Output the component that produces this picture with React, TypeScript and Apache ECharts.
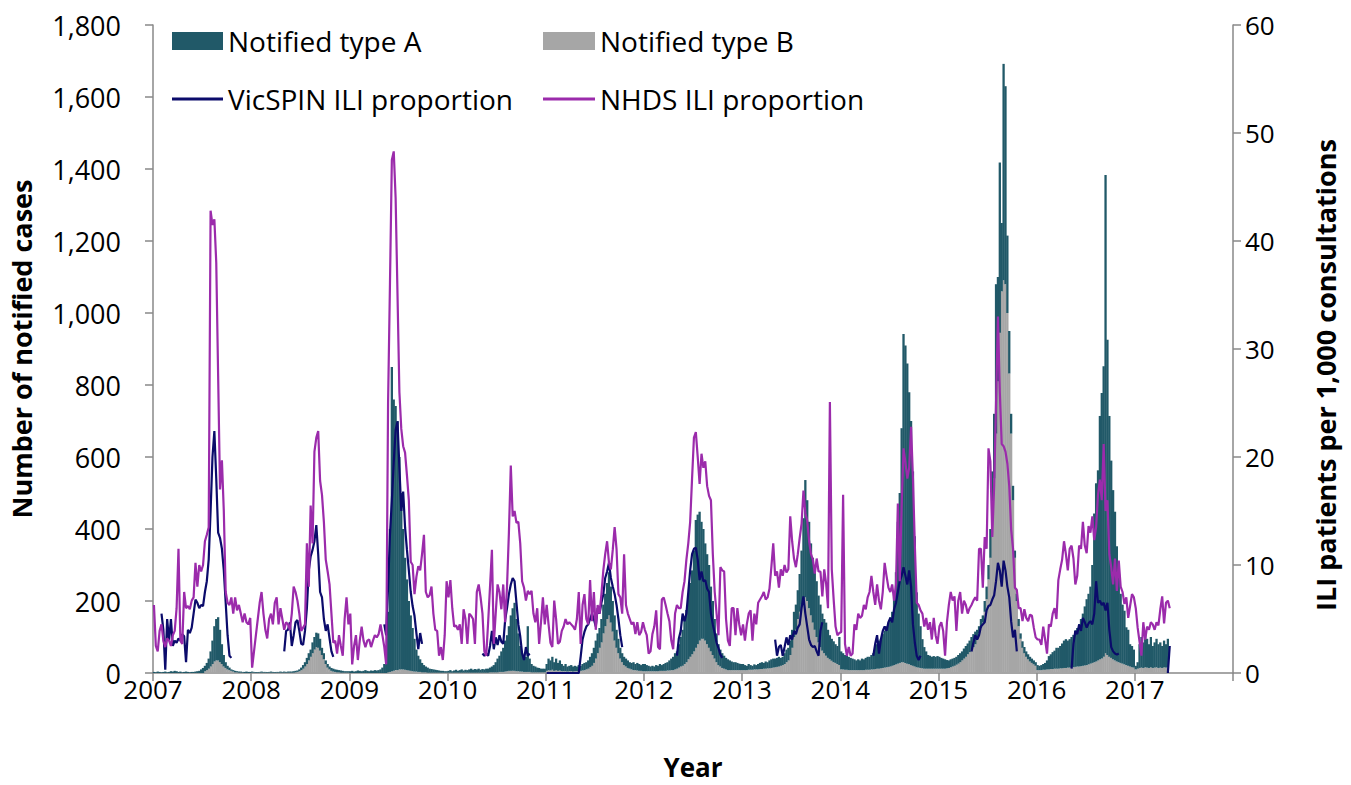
import React, { useEffect, useRef } from "react";
import * as echarts from "echarts";

const _ = null;
const YEARS = [2007, 2008, 2009, 2010, 2011, 2012, 2013, 2014, 2015, 2016, 2017];
const X_TICKS = [2007, 2008, 2009, 2010, 2011, 2012, 2013, 2014, 2015, 2016, 2017, 2018];
const LEFT_TICKS = [0, 200, 400, 600, 800, 1000, 1200, 1400, 1600, 1800];
const RIGHT_TICKS = [0, 10, 20, 30, 40, 50, 60];

// NHDS ILI proportion (per 1,000 consultations), weekly
const nhds2007 = [6.3,2.5,2.0,3.9,4.5,3.0,2.4,3.2,3.0,2.5,3.5,3.9,6.0,11.5,3.0,2.7,7.5,6.0,6.2,5.9,6.7,7.0,10.2,8.0,10.0,9.4,10.0,12.2,12.8,13.5,42.8,41.5,42.0,38.0,27.5,17.0,19.7,15.0,7.5,6.5,6.3,7.0,5.5,7.0,5.8,6.3,5.5,4.7,5.5,4.7,4.5,5.1];
const nhds2008 = [0.5,2.0,3.5,5.0,6.5,7.5,5.5,4.0,3.2,5.0,5.5,4.5,6.5,7.0,4.5,6.0,5.0,4.0,4.7,4.5,4.0,5.5,8.0,7.5,6.7,5.5,3.9,4.2,4.5,12.0,8.0,15.5,12.0,20.5,21.8,22.4,17.8,16.5,14.0,10.5,9.4,8.2,5.5,2.8,3.0,1.8,3.5,2.5,1.6,5.0,7.0,4.5];
const nhds2009 = [5.5,0.8,2.5,3.5,1.2,3.0,4.3,3.0,2.4,3.0,3.1,2.4,3.0,3.5,3.3,3.6,4.5,3.5,2.4,0.8,25,36,47.5,48.3,44,35,26,22.6,21,20.4,18.3,16,10.3,10.0,7.3,8.9,9.9,9.5,11,12.8,7.5,7.0,7.2,8.0,5.5,4.0,3.9,1.6,2.4,1.2,3.5,8.5];
const nhds2010 = [7.0,8.6,6.0,4.3,4.4,4.0,4.5,2.7,5.9,5.0,2.7,5.5,5.3,5.0,2.7,7.5,8.2,7.0,5.5,2.0,1.6,4.7,8.0,11.4,2.7,5.5,8.2,7.5,5.9,8.2,4.7,8.0,13.0,19.2,14.5,15.0,13.9,14.0,12.0,8.5,7.9,6.7,7.6,7.3,7.6,5.5,4.7,6.0,2.7,4.7,7.0,4.5];
const nhds2011 = [6.3,4.5,2.8,2.4,6.7,5.0,2.7,2.9,3.9,4.3,5.0,4.5,4.7,4.5,4.3,4.0,5.0,7.5,2.7,6.3,7.3,5.0,4.5,8.6,4.8,7.5,4.0,6.3,5.5,7.3,9.5,11.0,12.2,10.2,9.6,11.4,13.5,11.5,7.3,7.0,5.5,11.0,6.3,5.5,5.0,4.5,4.7,3.6,4.7,3.5,3.8,4.7];
const nhds2012 = [4.0,3.5,1.8,2.0,3.6,4.3,5.8,2.4,2.2,6.8,7.0,6.3,5.5,4.8,3.0,2.2,5.5,6.3,6.0,6.0,7.5,8.5,10.5,12.0,14.0,18.0,21.8,22.3,20.0,17.5,20.3,19.0,19.6,17.3,16.4,16.0,11.0,7.5,5.5,3.5,9.8,9.5,9.4,5.0,3.0,2.5,6.0,6.0,3.5,6.0,4.5,3.5];
const nhds2013 = [4.5,3.0,4.5,5.5,5.8,3.0,5.5,4.5,6.5,6.8,7.1,7.5,6.8,7.0,7.8,9.8,12.0,9.0,9.4,7.9,9.6,9.0,10.0,9.3,9.6,14.5,12.2,10.6,9.8,11.0,12.5,13.8,16.9,14.8,14.1,12.2,11.0,10.5,9.2,10.6,9.4,9.4,7.1,9.6,8.3,6.0,25.1,9.6,6.8,4.3,3.5,3.7];
const nhds2014 = [3.8,16.5,2.7,1.6,2.4,1.6,1.8,4.5,4.0,5.5,5.1,5.3,6.3,5.9,7.0,7.5,9.0,7.5,6.3,8.2,6.7,5.9,7.5,10.2,9.0,7.9,7.5,8.2,6.7,8.2,15.7,8.5,15.5,20.8,19.5,18.0,19.0,22.8,18.0,11.8,6.5,6.3,5.8,5.5,4.3,5.1,4.0,4.7,3.1,5.1,3.5,2.7];
const nhds2015 = [4.3,4.7,3.9,1.6,4.7,6.3,7.5,6.7,7.1,3.9,6.7,7.5,5.5,6.7,6.3,5.5,6.0,6.3,6.7,7.0,6.7,11.5,11.5,7.9,12.6,11.5,20.8,19.6,12.6,17.3,25.0,33.0,26.0,21.2,21.0,20.5,19.4,17.3,13.3,11.5,7.9,7.7,6.0,6.0,4.8,5.9,5.1,4.8,5.4,5.3,4.2,3.3];
const nhds2016 = [3.1,3.1,2.6,4.3,3.1,1.8,4.5,4.3,5.5,6.0,5.0,8.6,9.6,10.5,12.2,11.0,9.5,11.5,11.8,10.6,8.2,9.0,11.8,11.5,14.0,11.8,11.1,13.6,13.0,14.5,12.3,13.5,16.5,17.9,16.0,21.2,15.0,16.0,11.0,9.8,8.2,10.6,7.6,10.4,8.0,7.5,6.4,7.0,5.1,6.2,7.3,7.0];
const nhds2017 = [6.0,4.2,2.9,1.6,4.7,3.1,4.3,4.0,4.7,4.5,4.0,4.7,4.4,5.9,7.1,4.6,6.5,6.7,6.0];

// VicSPIN ILI proportion (per 1,000 consultations), weekly, season only
const vic2007 = [_,_,_,_,5.5,4.0,0.3,5.0,3.0,5.0,2.5,3.0,2.8,3.2,3.0,3.6,3.4,1.0,4.0,3.7,4.2,5.5,6.8,6.5,6.0,6.3,6.2,7.5,8.5,10.5,15,20,22.4,18,13,12.5,11.5,9.5,6.5,3.5,1.6,1.4,_,_,_,_,_,_,_,_,_,_];
const vic2008 = [_,_,_,_,_,_,_,_,_,_,_,_,_,_,_,_,_,2.0,3.9,4.0,4.7,2.5,3.5,4.7,4.9,3.9,2.7,2.6,3.9,6.0,9.5,10.8,11.4,12.2,13.7,11.0,7.5,7.0,5.0,3.9,4.5,3.2,2.0,1.5,_,_,_,_,_,_,_,_];
const vic2009 = [_,_,_,_,_,_,_,_,_,_,_,_,_,_,_,_,_,_,4.5,3.5,8,12.8,16,19.5,22.5,23.3,19,15,16.8,13.5,11.4,9.5,7.5,6.2,5.3,3.7,2.2,3.7,2.7,_,_,_,_,_,_,_,_,_,_,_,_,_];
const vic2010 = [_,_,_,_,_,_,_,_,_,_,_,_,_,_,_,_,_,_,1.8,1.6,1.8,1.6,2.5,3.9,2.2,3.3,2.6,3.5,2.9,2.7,4.9,6.0,7.3,8.2,8.8,8.5,6.5,4.5,3.4,1.8,1.2,2.4,1.6,1.8,_,_,_,_,_,_,_,_];
const vic2011 = [0,0,0,0,0,0,0,0,0,0,0,0,0,0,0,0,0,0,1.5,3.1,3.8,4.3,4.5,5.0,5.5,5.0,4.3,6.0,5.5,6.5,7.3,8.8,9.4,10.2,8.8,8.0,7.3,6.3,5.0,3.5,2.4,_,_,_,_,_,_,_,_,_,_,_];
const vic2012 = [_,_,_,_,_,_,_,_,_,_,_,_,_,_,_,_,_,1.6,3.2,3.9,5.5,4.8,5.5,7.5,9.5,11.0,11.5,11.6,10.5,8.6,9.4,8.5,8.6,7.8,7.5,5.5,4.5,3.7,2.8,2.3,1.7,1.4,_,_,_,_,_,_,_,_,_,_];
const vic2013 = [_,_,_,_,_,_,_,_,_,_,_,_,_,_,_,_,_,3.1,1.6,2.4,2.6,1.6,2.4,3.3,2.6,3.5,3.1,3.9,3.6,4.2,4.5,6.0,7.1,5.5,4.3,3.1,2.6,2.4,2.5,2.0,1.6,3.9,4.7,_,_,_,_,_,_,_,_,_];
const vic2014 = [_,_,_,_,_,_,_,_,_,_,_,_,_,_,_,_,_,1.6,2.7,3.5,1.8,3.1,3.9,4.3,3.9,4.7,5.1,4.7,5.9,6.5,7.5,8.5,9.0,9.8,9.0,8.2,9.5,8.0,4.5,2.8,1.6,1.2,1.6,_,_,_,_,_,_,_,_,_];
const vic2015 = [_,_,_,_,_,_,_,_,_,_,_,_,_,_,_,_,_,2.0,2.8,3.5,3.1,3.5,4.3,4.5,4.7,5.8,6.2,6.3,6.8,7.2,8.5,10.2,9.5,8.0,10.4,9.5,8.0,7.0,4.8,3.3,4.0,2.0,_,_,_,_,_,_,_,_,_,_];
const vic2016 = [_,_,_,_,_,_,_,_,_,_,_,_,_,_,_,_,_,_,0.4,2.7,3.9,3.6,4.5,3.9,5.1,4.7,4.2,4.6,4.8,4.5,5.5,8.5,6.5,6.7,6.3,6.5,5.8,6.5,4.0,2.4,2.0,1.8,1.7,1.8,_,_,_,_,_,_,_,_];
const vic2017 = [_,_,_,_,_,_,_,_,_,_,_,_,_,_,_,_,_,0,2.5];

// Notified cases, type A (stacked above type B), weekly
const typeA2007 = [3,2,4,3,2,3,4,2,3,5,4,6,5,3,4,2,3,4,3,2,3,3,4,5,6,10,14,15,20,28,42,65,98,115,120,90,55,32,16,10,7,4,4,4,3,3,3,2,3,4,3,3];
const typeA2008 = [3,2,2,2,2,3,2,2,2,2,3,2,2,2,2,3,2,3,2,3,3,3,4,4,4,5,7,10,12,17,20,20,30,35,40,40,33,20,17,10,10,8,8,8,7,7,6,6,5,4,4,4];
const typeA2009 = [5,6,4,5,7,6,5,6,8,6,5,7,6,8,7,8,10,15,25,45,168,397,845,754,734,692,590,490,390,311,252,193,154,120,91,61,45,35,26,20,16,14,11,10,9,8,7,6,5,5,4,4];
const typeA2010 = [5,7,4,6,8,5,7,9,6,8,7,9,11,8,10,9,11,8,10,9,11,11,13,16,20,28,38,45,57,67,86,100,124,154,174,189,145,105,71,51,37,42,127,37,23,18,16,13,12,10,10,10];
const typeA2011 = [19,32,28,36,24,32,22,28,20,15,20,14,15,17,14,15,13,16,14,18,20,20,23,29,35,42,50,55,55,65,80,90,100,120,100,85,70,50,40,30,25,23,22,21,18,18,22,17,21,19,16,20];
const typeA2012 = [20,17,15,13,15,13,17,15,19,16,19,22,23,28,32,37,45,48,65,82,100,125,145,177,205,233,280,355,360,358,325,305,270,250,230,180,150,110,80,58,47,41,36,32,30,27,24,22,22,20,18,17];
const typeA2013 = [17,14,12,16,13,11,14,12,15,17,19,16,20,17,22,24,25,24,25,27,22,23,30,35,35,40,50,70,70,80,105,150,225,326,280,240,200,180,170,155,130,118,103,95,92,78,67,61,58,52,50,78];
const typeA2014 = [50,45,41,39,37,34,32,30,27,30,27,32,30,33,36,36,40,45,64,68,78,82,94,103,114,123,137,150,188,256,394,472,650,912,882,834,756,678,540,362,208,150,116,81,60,48,38,36,33,35,33,35];
const typeA2015 = [33,30,28,26,23,21,22,22,22,22,24,25,25,28,30,30,32,35,36,35,25,20,25,20,30,35,40,80,120,179,415,290,473,190,601,550,215,118,55,40,20,20,20,15,18,17,15,14,13,12,11,10];
const typeA2016 = [14,12,14,16,19,25,37,41,47,50,58,58,62,69,76,80,75,79,84,90,101,107,117,131,145,164,183,196,214,272,413,495,528,676,738,807,1328,876,669,548,470,413,320,245,192,164,149,105,100,62,59,50];
const typeA2017 = [10,18,66,85,71,94,80,66,84,61,70,79,66,70,61,74,65,79];

// Notified cases, type B, weekly
const typeB2007 = [0,0,0,0,0,0,0,0,0,0,0,0,0,0,0,0,0,0,0,0,0,0,0,0,0,0,0,5,8,12,18,25,32,35,35,30,25,18,14,10,8,6,4,2,2,1,1,1,0,0,0,0];
const typeB2008 = [1,1,1,0,1,1,1,1,0,1,1,1,0,1,1,1,1,1,1,1,1,1,1,2,3,5,8,12,18,25,35,45,55,65,72,70,62,50,38,25,15,10,6,4,3,2,2,1,1,1,1,1];
const typeB2009 = [0,0,0,0,0,0,0,0,0,0,0,0,0,0,0,0,0,0,0,0,2,3,5,6,8,8,10,10,10,9,8,7,6,5,4,4,3,3,2,2,2,1,1,1,1,1,1,1,1,1,1,1];
const typeB2010 = [1,1,1,1,1,1,1,1,1,1,1,1,1,1,1,1,1,1,1,1,1,1,2,2,2,2,2,3,3,3,4,5,6,6,6,6,5,5,4,4,3,3,3,3,2,2,2,2,2,2,2,2];
const typeB2011 = [6,8,7,9,6,8,6,7,5,5,5,4,5,5,4,5,5,6,6,7,8,10,12,16,20,28,40,55,70,85,110,130,150,160,140,115,90,70,55,40,30,22,18,14,12,10,8,8,7,6,6,5];
const typeB2012 = [5,5,5,5,5,5,5,5,6,6,6,6,7,7,8,8,10,12,15,18,20,25,30,38,45,52,60,70,80,90,95,95,90,80,70,60,50,40,30,22,18,14,12,10,8,8,8,8,8,8,8,8];
const typeB2013 = [8,8,8,9,9,9,10,10,10,11,11,12,12,13,13,14,15,16,17,18,20,22,25,30,35,50,70,100,120,150,170,190,205,210,200,180,160,140,120,100,85,72,62,55,48,42,38,34,30,28,25,22];
const typeB2014 = [10,10,9,9,8,8,8,8,8,8,8,8,8,9,9,9,10,10,11,12,12,13,14,15,16,17,18,20,22,24,26,28,30,30,28,26,24,22,20,18,16,15,14,13,12,12,12,12,12,12,12,12];
const typeB2015 = [12,12,12,12,13,14,16,18,20,23,26,30,35,40,45,52,58,65,72,80,95,110,125,140,170,205,260,320,440,541,665,810,945,1060,1091,1080,1000,832,665,480,320,200,130,95,70,55,45,38,32,28,24,20];
const typeB2016 = [8,8,8,9,9,10,10,11,11,12,12,12,13,13,14,14,15,15,16,16,17,18,18,19,20,21,22,24,26,28,30,32,35,38,40,45,55,50,45,42,38,35,32,30,28,26,24,22,20,18,16,15];
const typeB2017 = [10,12,14,15,14,16,15,14,16,14,15,16,14,15,14,16,15,16];

const NHDS = [nhds2007, nhds2008, nhds2009, nhds2010, nhds2011, nhds2012, nhds2013, nhds2014, nhds2015, nhds2016, nhds2017];
const VIC = [vic2007, vic2008, vic2009, vic2010, vic2011, vic2012, vic2013, vic2014, vic2015, vic2016, vic2017];
const TYPE_A = [typeA2007, typeA2008, typeA2009, typeA2010, typeA2011, typeA2012, typeA2013, typeA2014, typeA2015, typeA2016, typeA2017];
const TYPE_B = [typeB2007, typeB2008, typeB2009, typeB2010, typeB2011, typeB2012, typeB2013, typeB2014, typeB2015, typeB2016, typeB2017];

const WEEKS_PER_YEAR = 52;

function weekX(yi: number, w: number) {
  return YEARS[yi] + (w + 0.5) / WEEKS_PER_YEAR;
}

// line points: [x, value]
function toLinePoints(byYear: (number | null)[][]) {
  const out: [number, number | null][] = [];
  byYear.forEach((arr, yi) => arr.forEach((v, w) => out.push([weekX(yi, w), v])));
  return out;
}

// bar points: [value, x] (value first so that the stack applies to the value dimension)
function toBarPoints(byYear: number[][]) {
  const out: [number, number][] = [];
  byYear.forEach((arr, yi) => arr.forEach((v, w) => out.push([v, weekX(yi, w)])));
  return out;
}

const FONT = "Open Sans";
const AXIS_COLOR = "#898989";

export default function App() {
  const ref = useRef<HTMLDivElement>(null);

  useEffect(() => {
    if (!ref.current) return;
    const chart = echarts.init(ref.current, null, { renderer: "svg" });
    const legendText = { fontSize: 28, fontFamily: FONT, color: "#000" };
    const titleStyle = { fontSize: 27, fontWeight: "bold", fontFamily: FONT, color: "#000" };
    const tickStyle = { fontSize: 26, fontFamily: FONT, color: "#000" };
    const option = {
      animation: false,
      backgroundColor: "#ffffff",
      grid: { left: 152, right: 118, top: 25, bottom: 105, containLabel: false },
      legend: [
        { data: ["Notified type A"], left: 167, top: 22, icon: "rect", itemWidth: 51, itemHeight: 18, selectedMode: false, textStyle: legendText },
        { data: ["Notified type B"], left: 538, top: 22, icon: "rect", itemWidth: 52, itemHeight: 18, selectedMode: false, textStyle: legendText },
        { data: ["VicSPIN ILI proportion"], left: 167, top: 80, icon: "rect", itemWidth: 51, itemHeight: 3, selectedMode: false, textStyle: legendText },
        { data: ["NHDS ILI proportion"], left: 538, top: 80, icon: "rect", itemWidth: 52, itemHeight: 3, selectedMode: false, textStyle: legendText },
      ],
      xAxis: {
        type: "value",
        min: X_TICKS[0],
        max: X_TICKS[X_TICKS.length - 1],
        interval: 1,
        axisLine: { show: true, onZero: false, lineStyle: { color: AXIS_COLOR, width: 1.5 } },
        axisTick: { show: true, length: 8, lineStyle: { color: AXIS_COLOR, width: 1.5 } },
        splitLine: { show: false },
        axisLabel: {
          ...tickStyle,
          margin: 3,
          formatter: (v: number) => (v >= 2018 ? "" : String(v)),
        },
        name: "Year",
        nameLocation: "middle",
        nameGap: 81,
        nameTextStyle: { ...titleStyle, fontSize: 26 },
      },
      yAxis: [
        {
          type: "value",
          min: LEFT_TICKS[0],
          max: LEFT_TICKS[LEFT_TICKS.length - 1],
          interval: 200,
          axisLine: { show: true, lineStyle: { color: AXIS_COLOR, width: 1.5 } },
          axisTick: { show: true, length: 8, lineStyle: { color: AXIS_COLOR, width: 1.5 } },
          splitLine: { show: false },
          axisLabel: {
            ...tickStyle,
            fontSize: 27,
            margin: 32,
            formatter: (v: number) => v.toLocaleString("en-US"),
          },
          name: "Number of notified cases",
          nameLocation: "middle",
          nameRotate: 90,
          nameGap: 118,
          nameTextStyle: titleStyle,
        },
        {
          type: "value",
          position: "right",
          min: RIGHT_TICKS[0],
          max: RIGHT_TICKS[RIGHT_TICKS.length - 1],
          interval: 10,
          axisLine: { show: true, lineStyle: { color: AXIS_COLOR, width: 1.5 } },
          axisTick: { show: true, length: 8, lineStyle: { color: AXIS_COLOR, width: 1.5 } },
          splitLine: { show: false },
          axisLabel: { ...tickStyle, margin: 12 },
          name: "ILI patients per 1,000 consultations",
          nameLocation: "middle",
          nameRotate: 90,
          nameGap: 79,
          nameTextStyle: { ...titleStyle, padding: [0, 52, 0, 0] },
        },
      ],
      series: [
        {
          name: "Notified type B",
          type: "bar",
          stack: "notified",
          barWidth: 2.3,
          encode: { x: 1, y: 0 },
          data: toBarPoints(TYPE_B),
          itemStyle: { color: "#a6a6a6" },
          emphasis: { disabled: true },
        },
        {
          name: "Notified type A",
          type: "bar",
          stack: "notified",
          barWidth: 2.3,
          encode: { x: 1, y: 0 },
          data: toBarPoints(TYPE_A),
          itemStyle: { color: "#215968" },
          emphasis: { disabled: true },
        },
        {
          name: "VicSPIN ILI proportion",
          type: "line",
          yAxisIndex: 1,
          data: toLinePoints(VIC),
          symbol: "none",
          connectNulls: false,
          lineStyle: { color: "#0b0b6b", width: 2.2 },
          itemStyle: { color: "#0b0b6b" },
          emphasis: { disabled: true },
        },
        {
          name: "NHDS ILI proportion",
          type: "line",
          yAxisIndex: 1,
          data: toLinePoints(NHDS),
          symbol: "none",
          connectNulls: false,
          lineStyle: { color: "#9b2bab", width: 2.2 },
          itemStyle: { color: "#9b2bab" },
          emphasis: { disabled: true },
        },
      ],
    };
    chart.setOption(option as any);
    return () => chart.dispose();
  }, []);

  return (
    <div
      ref={ref}
      style={{ position: "fixed", left: 0, top: 0, width: 1351, height: 785, background: "#fff" }}
    />
  );
}
